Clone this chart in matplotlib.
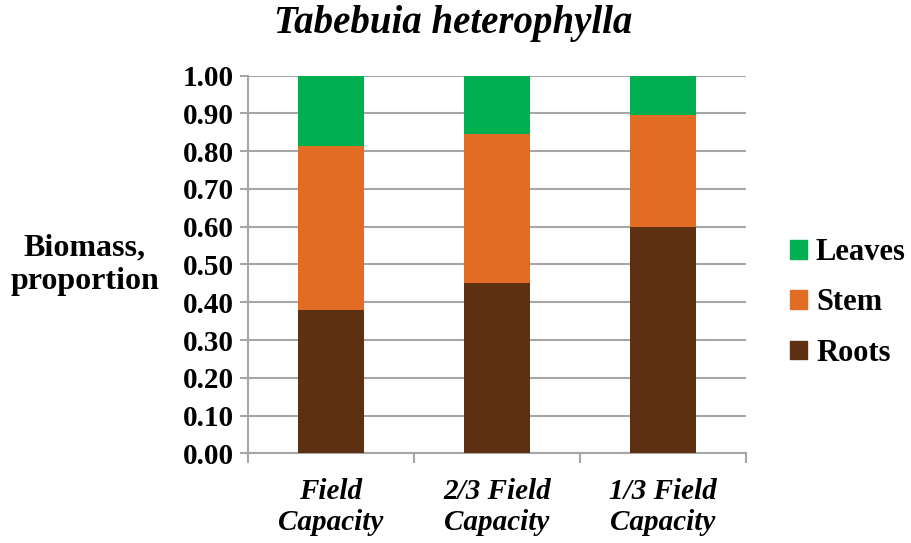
import numpy as np
import matplotlib.pyplot as plt
from matplotlib.patches import Patch

# biomass fractions per watering treatment
treatments = ["Field\nCapacity", "2/3 Field\nCapacity", "1/3 Field\nCapacity"]
roots = [0.38, 0.452, 0.598]
stem = [0.435, 0.394, 0.298]
leaves = [0.185, 0.154, 0.104]

c_roots = "#5E3012"
c_stem = "#E36C25"
c_leaves = "#00B050"
grid_col = "#A6A6A6"

plt.rcParams["font.family"] = ["Liberation Serif", "DejaVu Serif"]
plt.rcParams["font.weight"] = "bold"

fig = plt.figure(figsize=(9.11, 5.43), dpi=100)
ax = fig.add_axes([0.2722, 0.1652, 0.5467, 0.6954])

x = np.arange(len(treatments))
w = 0.40
ax.bar(x, roots, w, color=c_roots, zorder=3)
ax.bar(x, stem, w, bottom=roots, color=c_stem, zorder=3)
bot2 = np.array(roots) + np.array(stem)
ax.bar(x, leaves, w, bottom=bot2, color=c_leaves, zorder=3)

ax.set_xlim(-0.5, 2.5)
ax.set_ylim(0, 1.0)
ax.set_yticks(np.arange(0, 1.01, 0.1))
ax.set_yticklabels([f"{v:.2f}" for v in np.arange(0, 1.01, 0.1)],
                   fontsize=21, fontweight="bold")
ax.yaxis.grid(True, color=grid_col, linewidth=1.5, zorder=0)
ax.tick_params(axis="y", length=6, width=1.5, color=grid_col, pad=4)

# category labels sit between boundary ticks
ax.set_xticks([-0.5, 0.5, 1.5, 2.5])
ax.set_xticklabels([])
ax.tick_params(axis="x", length=7, width=1.5, color=grid_col)
ax.set_xticks(x, minor=True)
ax.set_xticklabels(treatments, minor=True, fontsize=21, fontweight="bold",
                   fontstyle="italic", linespacing=1.2)
ax.tick_params(axis="x", which="minor", length=0, pad=18)

for s in ["top", "right"]:
    ax.spines[s].set_visible(False)
for s in ["left", "bottom"]:
    ax.spines[s].set_color(grid_col)
    ax.spines[s].set_linewidth(1.5)

fig.text(0.498, 0.957, "Tabebuia heterophylla", ha="center", va="center",
         fontsize=28, fontweight="bold", fontstyle="italic")
fig.text(0.093, 0.512, "Biomass,\nproportion", ha="center", va="center",
         fontsize=23, fontweight="bold", linespacing=1.2)

handles = [Patch(color=c_leaves, label="Leaves"),
           Patch(color=c_stem, label="Stem"),
           Patch(color=c_roots, label="Roots")]
fig.legend(handles=handles, loc="center left", bbox_to_anchor=(0.837, 0.442),
           frameon=False, prop={"size": 22, "weight": "bold"},
           handlelength=0.55, handleheight=0.55, handletextpad=0.3,
           labelspacing=0.7)

fig.savefig("out.png", dpi=100)
